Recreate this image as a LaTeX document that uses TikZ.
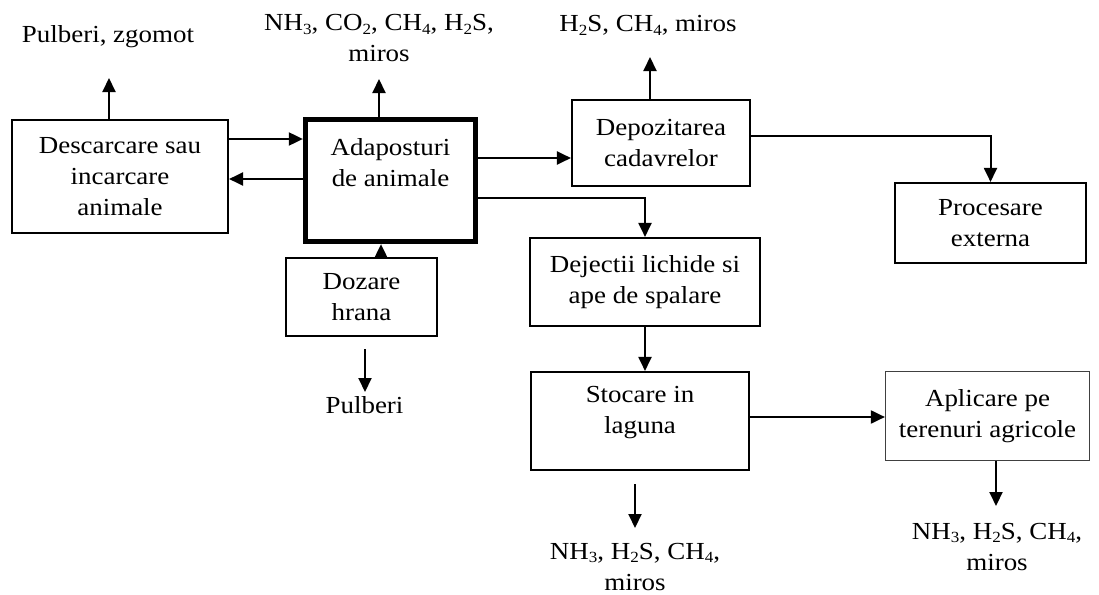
\documentclass[tikz,border=0pt]{standalone}
\usepackage{fontspec}
\setmainfont[FakeStretch=1.1]{Liberation Serif}
\usetikzlibrary{arrows.meta}
\newcommand\subs[1]{\raisebox{-0.35ex}{\fontsize{15.5}{15.5}\selectfont #1}}
\begin{document}
\begin{tikzpicture}[x=1pt,y=-1pt,font=\fontsize{24.5}{31}\selectfont,
  box/.style={draw,line width=2.1pt,inner sep=0pt,align=center,rectangle},
  arr/.style={line width=2pt,-{Triangle[length=14pt,width=13pt]}},
  lbl/.style={align=center,inner sep=0pt,anchor=base}]
\useasboundingbox (0,0) rectangle (1099,594);
% boxes
\node[box,minimum width=216pt,minimum height=113pt] (desc) at (120,176.5) {Descarcare sau\\incarcare\\animale};
\node[box,line width=4.8pt,minimum width=170.5pt,minimum height=122.5pt,
  label={[name=adapT,align=center,yshift=18pt]center:Adaposturi\\de animale}] (adap) at (390.5,180.5) {};
\node[box,minimum width=178pt,minimum height=86pt] (depo) at (661,143) {Depozitarea\\cadavrelor};
\node[box,minimum width=191pt,minimum height=80pt] (proc) at (990.5,223) {Procesare\\externa};
\node[box,minimum width=230pt,minimum height=88pt] (deje) at (645,282) {Dejectii lichide si\\ape de spalare};
\node[box,minimum width=218pt,minimum height=98pt,
  label={[name=stocT,align=center,yshift=8pt]center:Stocare in\\laguna}] (stoc) at (640,421) {};
\node[box,line width=1.2pt,draw=black!75,minimum width=204pt,minimum height=89pt] (apli) at (987.5,416) {Aplicare pe\\terenuri agricole};
\node[box,minimum width=151pt,minimum height=78pt] (doza) at (361.5,297) {Dozare\\hrana};
% helper coordinates
\coordinate (y139) at (0,139);
\coordinate (y179) at (0,179);
\coordinate (y158) at (0,158);
\coordinate (y198) at (0,198);
\coordinate (y136) at (0,136);
\coordinate (y417) at (0,417);
\coordinate (x381) at (381,0);
% connectors between boxes
\draw[arr] (desc.east |- y139) -- (adap.west |- y139);
\draw[arr] (adap.west |- y179) -- (desc.east |- y179);
\draw[arr] (adap.east |- y158) -- (depo.west |- y158);
\draw[arr] (adap.east |- y198) -| (deje.north);
\draw[arr] (depo.east |- y136) -| (proc.north);
\draw[arr] (doza.north -| x381) -- (adap.south -| x381);
\draw[arr] (deje.south) -- (deje.south |- stoc.north);
\draw[arr] (stoc.east |- y417) -- (apli.west |- y417);
% emissions
\coordinate (c1) at (109,78);
\draw[arr] (desc.north -| c1) -- (c1);
\node[lbl] (e1) at (108,43) {Pulberi, zgomot};
\coordinate (c2) at (379,79);
\draw[arr] (adap.north -| c2) -- (c2);
\node[lbl] (e2) at (379,62) {NH\subs{3}, CO\subs{2}, CH\subs{4}, H\subs{2}S,\\miros};
\coordinate (c3) at (650,57);
\draw[arr] (depo.north -| c3) -- (c3);
\node[lbl] (e3) at (648,32) {H\subs{2}S, CH\subs{4}, miros};
\coordinate (d1) at (365,349);
\coordinate (d2) at (365,392);
\draw[arr] (d1) -- (d2);
\node[lbl] (e4) at (364.5,413) {Pulberi};
\coordinate (s1) at (635,484);
\coordinate (s2) at (635,528);
\draw[arr] (s1) -- (s2);
\node[lbl] (e5) at (635,590) {NH\subs{3}, H\subs{2}S, CH\subs{4},\\miros};
\coordinate (a2) at (996,506);
\draw[arr] (apli.south -| a2) -- (a2);
\node[lbl] (e6) at (997,570) {NH\subs{3}, H\subs{2}S, CH\subs{4},\\miros};
\end{tikzpicture}
\end{document}
